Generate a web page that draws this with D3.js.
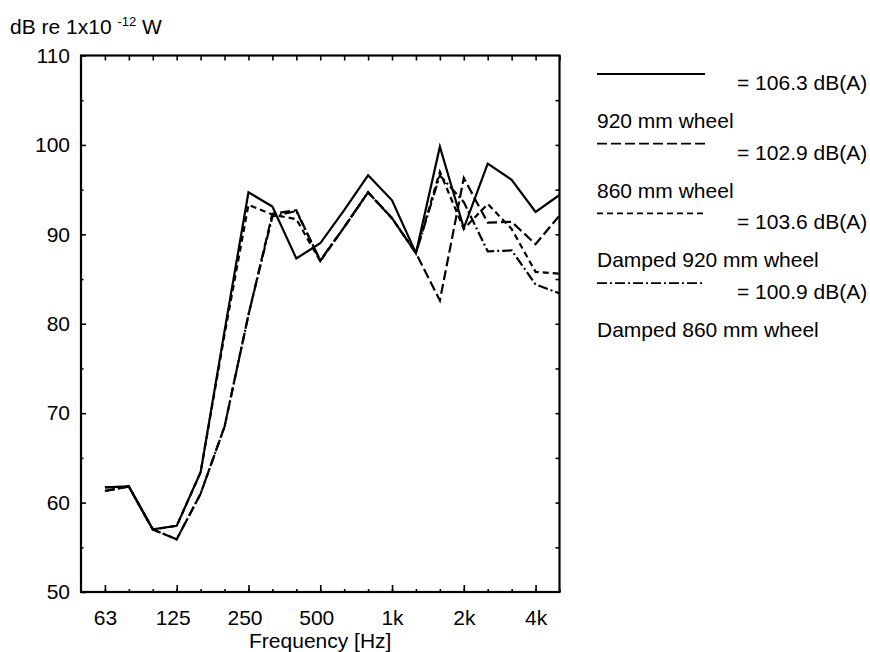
<!DOCTYPE html>
<html>
<head>
<meta charset="utf-8">
<script src="https://cdn.jsdelivr.net/npm/d3@7"></script>
<style>
    body { margin: 0; background: #fff; }
    text { font-family: "Liberation Sans", Arial, Helvetica, sans-serif; fill: #000; }
</style>
</head>
<body>
<div id="chartDiv"></div>
<script>
"use strict";

// one-third octave bands, the first one only pads the left edge
var bands = ["50", "63", "80", "100", "125", "160", "200", "250", "315", "400", "500",
             "630", "800", "1000", "1250", "1600", "2000", "2500", "3150", "4000", "5000"];
var dataBands = bands.slice(1);
var labelBands = ["63", "125", "250", "500", "1000", "2000", "4000"];
var labelTexts = ["63", "125", "250", "500", "1k", "2k", "4k"];
var yTicks = [50, 60, 70, 80, 90, 100, 110];
var yMinorTicks = [55, 65, 75, 85, 95, 105];

// sound power levels per band, 63 Hz .. 5 kHz
var wheel920 = [61.7, 61.8, 57.0, 57.4, 63.4, 79.2, 94.7, 93.1, 87.3, 89.0,
                92.7, 96.6, 93.8, 87.9, 99.8, 90.7, 97.9, 96.1, 92.5, 94.4];
var wheel860 = [61.3, 61.8, 57.0, 55.9, 61.0, 68.5, 81.0, 92.3, 92.7, 87.0,
                90.8, 94.7, 91.8, 87.9, 82.6, 96.3, 91.3, 91.4, 88.9, 92.1];
var damped920 = [61.7, 61.8, 57.0, 57.4, 63.4, 78.8, 93.3, 92.2, 91.7, 87.0,
                 90.8, 94.7, 91.8, 87.9, 97.0, 90.6, 93.4, 90.6, 85.8, 85.6];
var damped860 = [61.3, 61.8, 57.0, 55.9, 61.0, 68.5, 81.0, 92.0, 92.6, 87.1,
                 90.8, 94.7, 91.8, 87.9, 96.6, 93.6, 88.1, 88.2, 84.4, 83.4];

var seriesNames = ["920 mm wheel", "860 mm wheel", "Damped 920 mm wheel", "Damped 860 mm wheel"];
var seriesTotals = ["106.3", "102.9", "103.6", "100.9"];
var seriesValues = [wheel920, wheel860, damped920, damped860];
var seriesDash = [null, "10,4", "6,4", "10,3,2,3"];

// svg element parameters
var svgWidth = 870;
var svgHeight = 652;
var plotLeft = 81, plotRight = 559.5, plotTop = 55.5, plotBottom = 592;
var fontSize = 21;

var svg = d3.select("#chartDiv").append("svg")
    .attr("width", svgWidth).attr("height", svgHeight)
    .style("font-size", fontSize + "px");

var x = d3.scalePoint().domain(bands).range([plotLeft, plotRight]);
var y = d3.scaleLinear().domain([50, 110]).range([plotBottom, plotTop]);

// frame
svg.append("rect")
    .attr("x", plotLeft).attr("y", plotTop)
    .attr("width", plotRight - plotLeft).attr("height", plotBottom - plotTop)
    .attr("fill", "none").attr("stroke", "#000").attr("stroke-width", 2.2);

// axes, all ticks point into the plot
function addAxis(axis, tx, ty) {
    var g = svg.append("g").attr("transform", "translate(" + tx + "," + ty + ")").call(axis);
    g.select(".domain").remove();
    g.selectAll("line").attr("stroke", "#000").attr("stroke-width", 1.6);
    g.selectAll("text").attr("font-size", fontSize).attr("font-family", null);
    return g;
}

addAxis(d3.axisBottom(x).tickValues(bands.slice(1)).tickSize(-3).tickFormat(""), 0, plotBottom);
addAxis(d3.axisBottom(x).tickValues(labelBands).tickSize(-7).tickPadding(18)
    .tickFormat(function (d) { return labelTexts[labelBands.indexOf(d)]; }), 0, plotBottom)
    .selectAll("text").attr("dx", function (d) { return d.length === 3 ? -4 : 0; });
addAxis(d3.axisTop(x).tickValues(bands.slice(1)).tickSize(-5).tickFormat(""), 0, plotTop);
addAxis(d3.axisLeft(y).tickValues(yTicks).tickSize(-5).tickPadding(11), plotLeft, 0);
addAxis(d3.axisLeft(y).tickValues(yMinorTicks).tickSize(-2.5).tickFormat(""), plotLeft, 0);
addAxis(d3.axisRight(y).tickValues(yMinorTicks.concat(yTicks.slice(1, -1))).tickSize(-4).tickFormat(""), plotRight, 0);

// axis titles
var yTitle = svg.append("text").attr("x", 10).attr("y", 34);
yTitle.append("tspan").text("dB re 1x10 ");
yTitle.append("tspan").attr("font-size", 13).attr("dy", -8).text("-12");
yTitle.append("tspan").attr("dy", 8).text(" W");

svg.append("text")
    .attr("x", (plotLeft + plotRight) / 2).attr("y", 648)
    .attr("text-anchor", "middle")
    .text("Frequency [Hz]");

// data lines
var line = d3.line()
    .x(function (d, i) { return x(dataBands[i]); })
    .y(function (d) { return y(d); });

svg.append("g").selectAll("path").data(seriesValues).enter()
    .append("path")
    .attr("d", line)
    .attr("fill", "none")
    .attr("stroke", "#000")
    .attr("stroke-width", 2.2)
    .attr("stroke-linejoin", "miter")
    .attr("stroke-dasharray", function (d, i) { return seriesDash[i]; });

// legend: line, "= total", then the name below
var legendX = 597, legendLineEnd = 705, legendTextX = 737, legendTop = 74, legendStep = 69.7;
var legend = svg.append("g").selectAll("g").data(seriesNames).enter()
    .append("g")
    .attr("transform", function (d, i) { return "translate(0," + (legendTop + i * legendStep) + ")"; });

legend.append("line")
    .attr("x1", legendX).attr("x2", legendLineEnd)
    .attr("stroke", "#000").attr("stroke-width", 1.8)
    .attr("stroke-dasharray", function (d, i) { return seriesDash[i]; });

legend.append("text")
    .attr("x", legendTextX).attr("y", 16)
    .text(function (d, i) { return "= " + seriesTotals[i] + " dB(A)"; });

legend.append("text")
    .attr("x", legendX).attr("y", 54)
    .text(function (d) { return d; });
</script>
</body>
</html>
